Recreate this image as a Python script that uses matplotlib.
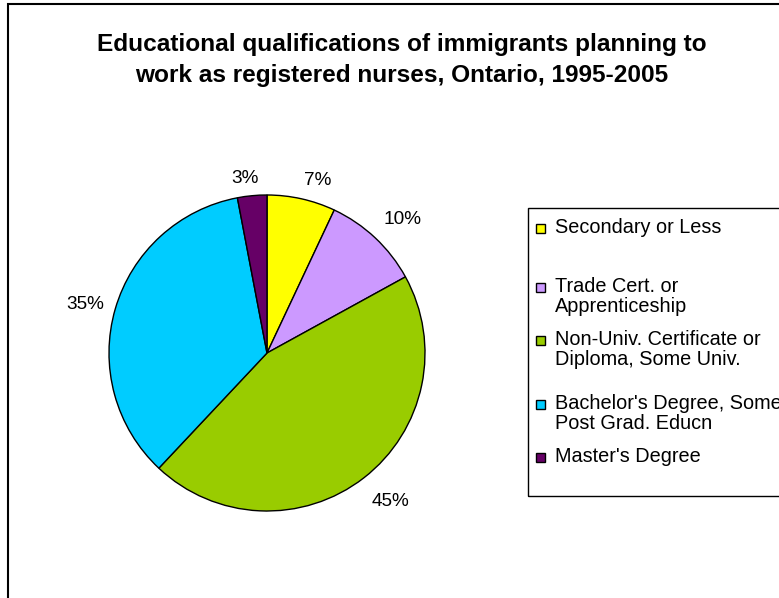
import numpy as np
import matplotlib.pyplot as plt
from matplotlib.patches import Rectangle

plt.rcParams['font.family'] = ['Liberation Sans', 'DejaVu Sans']

# data
categories = ["Secondary or Less",
              "Trade Cert. or\nApprenticeship",
              "Non-Univ. Certificate or\nDiploma, Some Univ.",
              "Bachelor's Degree, Some\nPost Grad. Educn",
              "Master's Degree"]
shares = [7, 10, 45, 35, 3]
colors = ['#FFFF00', '#CC99FF', '#99CC00', '#00CCFF', '#660066']
title = "Educational qualifications of immigrants planning to\nwork as registered nurses, Ontario, 1995-2005"

W, H = 779, 598
fig = plt.figure(figsize=(W / 100, H / 100), dpi=100)

# outer chart frame (cropped at right and bottom)
fig.patches.append(Rectangle((8 / W, -0.1), 1.2, (H - 4) / H + 0.1,
                             transform=fig.transFigure, fill=False,
                             edgecolor='black', linewidth=1.5))

fig.text(402 / W, 1 - 60 / H, title, ha='center', va='center',
         fontsize=17.6, fontweight='bold', linespacing=1.45)

# pie: centre (267, 353) px, radius 158 px
cx, cy, r = 267, 353, 158
ax = fig.add_axes([(cx - r) / W, (H - cy - r) / H, 2 * r / W, 2 * r / H])
wedges, texts = ax.pie(shares, colors=colors, startangle=90, counterclock=False,
                       labels=[f"{v}%" for v in shares],
                       wedgeprops=dict(edgecolor='black', linewidth=1.0),
                       textprops=dict(fontsize=13.7, ha='center', va='center'))
ax.set_xlim(-1, 1)
ax.set_ylim(-1, 1)

# place labels Excel-style: anchor point just outside the rim,
# label box hangs off it away from the pie
renderer = fig.canvas.get_renderer()
rl = 170  # px from centre
for w, t in zip(wedges, texts):
    phi = np.deg2rad((w.theta1 + w.theta2) / 2)
    c, s = np.cos(phi), np.sin(phi)
    hw, hh = t.get_window_extent(renderer).width / 2, 7.5
    x = rl * c + np.sign(c) * hw * min(1, 5 * abs(c))
    y = (rl + 8 * np.sin(2 * phi) ** 2) * s + hh * s - 2
    t.set_position((x / r, y / r))

# legend box
lx, ly_top, ly_bot = 528, 208, 496
fig.patches.append(Rectangle((lx / W, 1 - ly_bot / H), 1.0, (ly_bot - ly_top) / H,
                             transform=fig.transFigure, fill=False,
                             edgecolor='black', linewidth=1.0))
entry_y = [226, 285, 338, 402, 455]
for lab, col, y in zip(categories, colors, entry_y):
    fig.patches.append(Rectangle((536 / W, 1 - (y + 6.5) / H), 9 / W, 9 / H,
                                 transform=fig.transFigure, facecolor=col,
                                 edgecolor='black', linewidth=1.0))
    fig.text(555 / W, 1 - (y - 8) / H, lab, ha='left', va='top',
             fontsize=14.3, linespacing=1.06)

fig.savefig('out.png', dpi=100)
